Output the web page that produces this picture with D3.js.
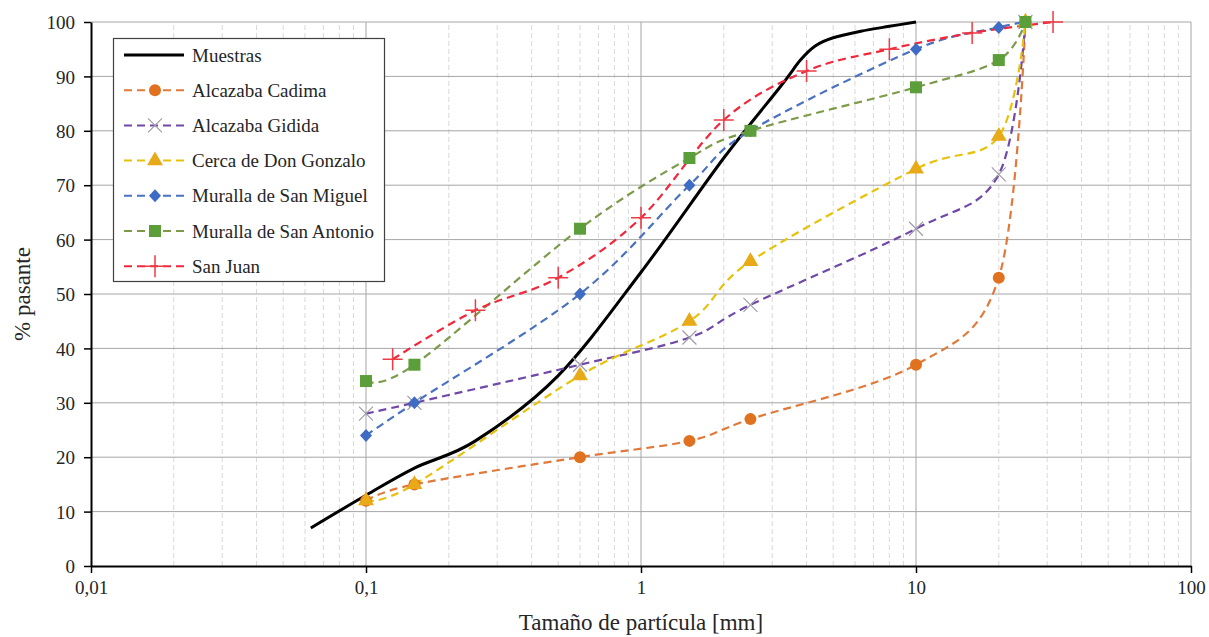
<!DOCTYPE html>
<html>
<head>
<meta charset="utf-8">
<script src="https://cdn.jsdelivr.net/npm/d3@7"></script>
<style>
    body { margin: 0; background: white; }
    text { font-family: "Liberation Serif", "Times New Roman", serif; fill: #262626; }
</style>
</head>
<body>
<div id="chart"></div>
<script>
// Sieve sizes (mm) and % passing for each sample
const sievesA = [0.1, 0.15, 0.6, 1.5, 2.5, 10, 20, 25];
const muestrasX = [0.063, 0.1, 0.15, 0.25, 0.5, 1, 2, 3.2, 3.8, 4.3, 5, 6.3, 8, 10];
const muestrasY = [7, 13, 18, 23, 35, 54, 75, 88, 93, 95.6, 97.1, 98.3, 99.2, 100];
const cadima = [12, 15, 20, 23, 27, 37, 53, 100];
const gidida = [28, 30, 37, 42, 48, 62, 72, 100];
const gonzalo = [12, 15, 35, 45, 56, 73, 79, 100];
const sanMiguel = [24, 30, 50, 70, 80, 95, 99, 100];
const sanAntonio = [34, 37, 62, 75, 80, 88, 93, 100];
const sanJuanX = [0.125, 0.25, 0.5, 1, 2, 4, 8, 16, 31.5];
const sanJuanY = [38, 47, 53, 64, 82, 91, 95, 98, 100];

const xTicks = [0.01, 0.1, 1, 10, 100];
const xTickLabels = ["0,01", "0,1", "1", "10", "100"];
const yTicks = [0, 10, 20, 30, 40, 50, 60, 70, 80, 90, 100];

// Chart dimensions
const width = 1209;
const height = 637;
const margin = { top: 22, right: 18, bottom: 71, left: 91 };

const svg = d3.select("#chart").append("svg")
    .attr("width", width)
    .attr("height", height);

const x = d3.scaleLog()
    .domain([0.01, 100])
    .range([margin.left, width - margin.right]);

const y = d3.scaleLinear()
    .domain([0, 100])
    .range([height - margin.bottom, margin.top]);

// Minor vertical gridlines (2..9 of every decade)
const minor = [];
[0.01, 0.1, 1, 10].forEach(d => {
    for (let k = 2; k <= 9; k++) minor.push(d * k);
});
svg.append("g").selectAll("line")
    .data(minor)
    .enter().append("line")
    .attr("x1", d => x(d)).attr("x2", d => x(d))
    .attr("y1", y(0)).attr("y2", y(100))
    .attr("stroke", "#d9d9d9")
    .attr("stroke-dasharray", "5,3");

// Major gridlines
svg.append("g").selectAll("line")
    .data(yTicks.slice(1))
    .enter().append("line")
    .attr("x1", x(0.01)).attr("x2", x(100))
    .attr("y1", d => y(d)).attr("y2", d => y(d))
    .attr("stroke", "#a6a6a6");
svg.append("g").selectAll("line")
    .data(xTicks.slice(1))
    .enter().append("line")
    .attr("x1", d => x(d)).attr("x2", d => x(d))
    .attr("y1", y(0)).attr("y2", y(100))
    .attr("stroke", "#a6a6a6");

// Axes
const xAxis = svg.append("g")
    .attr("transform", `translate(0,${y(0)})`)
    .call(d3.axisBottom(x).tickValues(xTicks).tickFormat((d, i) => xTickLabels[i]).tickSize(7).tickSizeOuter(0));
const yAxis = svg.append("g")
    .attr("transform", `translate(${x(0.01)},0)`)
    .call(d3.axisLeft(y).tickValues(yTicks).tickSize(7).tickSizeOuter(0));

[xAxis, yAxis].forEach(a => {
    a.select(".domain").attr("stroke", "black").attr("stroke-width", 2);
    a.selectAll(".tick line").attr("stroke", "black").attr("stroke-width", 1.5);
    a.selectAll(".tick text").style("font-size", "19px").attr("fill", "#262626");
});
xAxis.selectAll(".tick text").attr("y", 11).attr("dy", "0.9em");
yAxis.selectAll(".tick text").attr("x", -16).attr("dy", "0.35em");

// Axis titles
svg.append("text")
    .attr("x", x(1)).attr("y", 630)
    .attr("text-anchor", "middle")
    .style("font-size", "23px")
    .text("Tamaño de partícula [mm]");
svg.append("text")
    .attr("transform", `translate(30,${y(50)}) rotate(-90)`)
    .attr("text-anchor", "middle")
    .style("font-size", "23px")
    .text("% pasante");

// Marker painters
const markers = {
    circle: (g, c) => g.append("circle").attr("r", 6).attr("fill", c),
    cross: (g, c) => g.append("path").attr("d", "M-7,-7L7,7M-7,7L7,-7").attr("stroke", c).attr("stroke-width", 1.2).attr("fill", "none"),
    triangle: (g, c) => g.append("path").attr("d", d3.symbol(d3.symbolTriangle, 110)()).attr("fill", c),
    diamond: (g, c) => g.append("path").attr("d", "M0,-6.5L6,0L0,6.5L-6,0Z").attr("fill", c),
    square: (g, c) => g.append("rect").attr("x", -6).attr("y", -6).attr("width", 12).attr("height", 12).attr("fill", c),
    plus: (g, c) => g.append("path").attr("d", "M-10,0L10,0M0,-11L0,11").attr("stroke", c).attr("stroke-width", 1.5).attr("fill", "none")
};

const series = [
    { name: "Alcazaba Cadima", xs: sievesA, ys: cadima, line: "#e0793a", mark: "#e0711f", shape: "circle" },
    { name: "Alcazaba Gidida", xs: sievesA, ys: gidida, line: "#7048a8", mark: "#a09cac", shape: "cross" },
    { name: "Cerca de Don Gonzalo", xs: sievesA, ys: gonzalo, line: "#e8c10c", mark: "#e8aa18", shape: "triangle" },
    { name: "Muralla de San Miguel", xs: sievesA, ys: sanMiguel, line: "#4a72c0", mark: "#3e6cc4", shape: "diamond" },
    { name: "Muralla de San Antonio", xs: sievesA, ys: sanAntonio, line: "#7c9a48", mark: "#5c9e3a", shape: "square" },
    { name: "San Juan", xs: sanJuanX, ys: sanJuanY, line: "#f0283c", mark: "#f03a44", shape: "plus" }
];

const line = d3.line()
    .x(d => x(d[0]))
    .y(d => y(d[1]))
    .curve(d3.curveCatmullRom.alpha(0));

// Reference grading curve
svg.append("path")
    .datum(muestrasX.map((v, i) => [v, muestrasY[i]]))
    .attr("d", line)
    .attr("fill", "none")
    .attr("stroke", "black")
    .attr("stroke-width", 3);

series.forEach(s => {
    const pts = s.xs.map((v, i) => [v, s.ys[i]]);
    svg.append("path")
        .datum(pts)
        .attr("d", line)
        .attr("fill", "none")
        .attr("stroke", s.line)
        .attr("stroke-width", 2.2)
        .attr("stroke-dasharray", "8,5");
});
series.forEach(s => {
    s.xs.forEach((v, i) => {
        const g = svg.append("g").attr("transform", `translate(${x(v)},${y(s.ys[i])})`);
        markers[s.shape](g, s.mark);
    });
});

// Legend
const legend = svg.append("g");
legend.append("rect")
    .attr("x", 113.5).attr("y", 38.5)
    .attr("width", 271).attr("height", 243)
    .attr("fill", "white")
    .attr("stroke", "#404040")
    .attr("stroke-width", 1.2);

const legendItems = [{ name: "Muestras" }].concat(series);
legendItems.forEach((s, i) => {
    const ly = 55 + i * 35.2;
    const g = legend.append("g").attr("transform", `translate(0,${ly})`);
    if (i === 0) {
        g.append("line").attr("x1", 124).attr("x2", 184).attr("stroke", "black").attr("stroke-width", 3);
    } else {
        g.append("line").attr("x1", 124).attr("x2", 186)
            .attr("stroke", s.line).attr("stroke-width", 2)
            .attr("stroke-dasharray", "8,5");
        const m = g.append("g").attr("transform", "translate(155,0)");
        markers[s.shape](m, s.mark);
    }
    g.append("text")
        .attr("x", 192).attr("dy", "0.35em")
        .style("font-size", "19px")
        .text(s.name);
});
</script>
</body>
</html>
